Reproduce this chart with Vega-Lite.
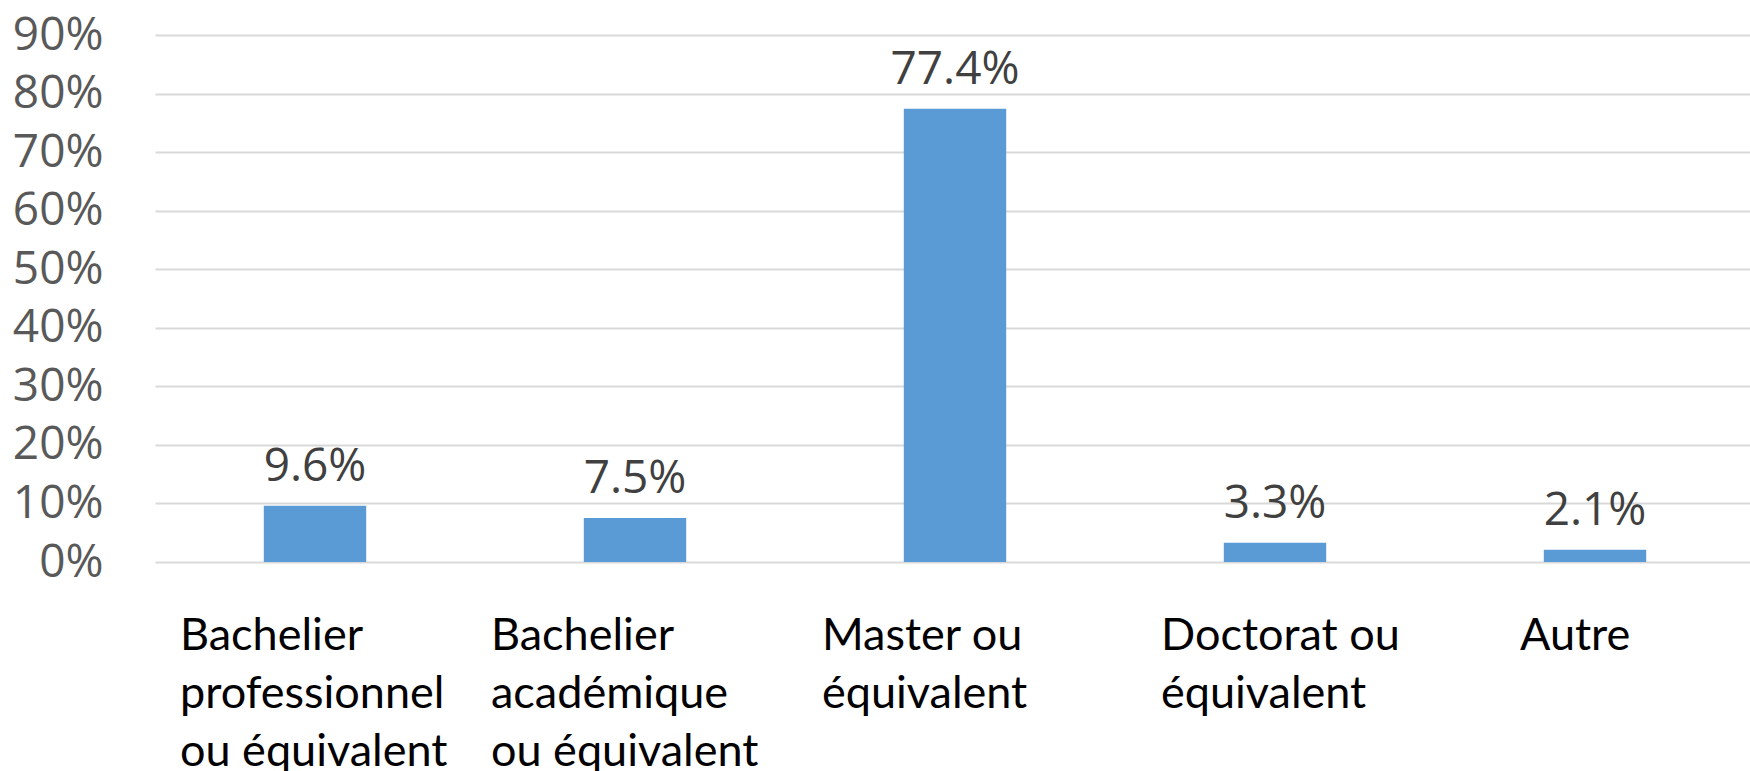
{
  "$schema": "https://vega.github.io/schema/vega-lite/v6.json",
  "width": 1600,
  "height": 527,
  "autosize": {"type": "none"},
  "padding": {"left": 155, "top": 35, "right": 0, "bottom": 209},
  "background": "white",
  "data": {
    "values": [
      {"category": "Bachelier professionnel ou équivalent", "value": 0.096, "label": "9.6%"},
      {"category": "Bachelier académique ou équivalent", "value": 0.075, "label": "7.5%"},
      {"category": "Master ou équivalent", "value": 0.774, "label": "77.4%"},
      {"category": "Doctorat ou équivalent", "value": 0.033, "label": "3.3%"},
      {"category": "Autre", "value": 0.021, "label": "2.1%"}
    ]
  },
  "encoding": {
    "x": {
      "field": "category",
      "type": "nominal",
      "sort": null,
      "title": null,
      "scale": {"paddingInner": 0.68, "paddingOuter": 0.34},
      "axis": {
        "domain": false,
        "ticks": false,
        "labelAngle": 0,
        "labelAlign": "left",
        "labelBaseline": "top",
        "labelFont": "Lato",
        "labelFontSize": 45,
        "labelColor": "#000000",
        "labelLineHeight": 58,
        "labelPadding": 51,
        "labelLimit": 0,
        "labelOverlap": false,
        "labelExpr": "datum.value == 'Bachelier professionnel ou équivalent' ? ['Bachelier', 'professionnel', 'ou équivalent'] : datum.value == 'Bachelier académique ou équivalent' ? ['Bachelier', 'académique', 'ou équivalent'] : datum.value == 'Master ou équivalent' ? ['Master ou', 'équivalent'] : datum.value == 'Doctorat ou équivalent' ? ['Doctorat ou', 'équivalent'] : datum.value",
        "labelOffset": {
          "condition": [
            {"test": "datum.value == 'Bachelier académique ou équivalent'", "value": -144},
            {"test": "datum.value == 'Master ou équivalent'", "value": -133},
            {"test": "datum.value == 'Doctorat ou équivalent'", "value": -114},
            {"test": "datum.value == 'Autre'", "value": -75}
          ],
          "value": -135
        }
      }
    },
    "y": {
      "field": "value",
      "type": "quantitative",
      "title": null,
      "scale": {"domain": [0, 0.9], "nice": false},
      "axis": {
        "values": [0, 0.1, 0.2, 0.3, 0.4, 0.5, 0.6, 0.7, 0.8, 0.9],
        "format": ".0%",
        "domain": false,
        "ticks": false,
        "labelFont": "Open Sans",
        "labelFontSize": 46,
        "labelColor": "#595959",
        "labelPadding": 52,
        "gridColor": "#d9d9d9",
        "gridWidth": 2
      }
    }
  },
  "layer": [
    {"mark": {"type": "bar", "color": "#5b9bd5"}},
    {
      "mark": {"type": "text", "font": "Open Sans", "fontSize": 46, "color": "#404040", "baseline": "alphabetic", "dy": -25},
      "encoding": {"text": {"field": "label"}}
    }
  ],
  "config": {"view": {"stroke": null}}
}
